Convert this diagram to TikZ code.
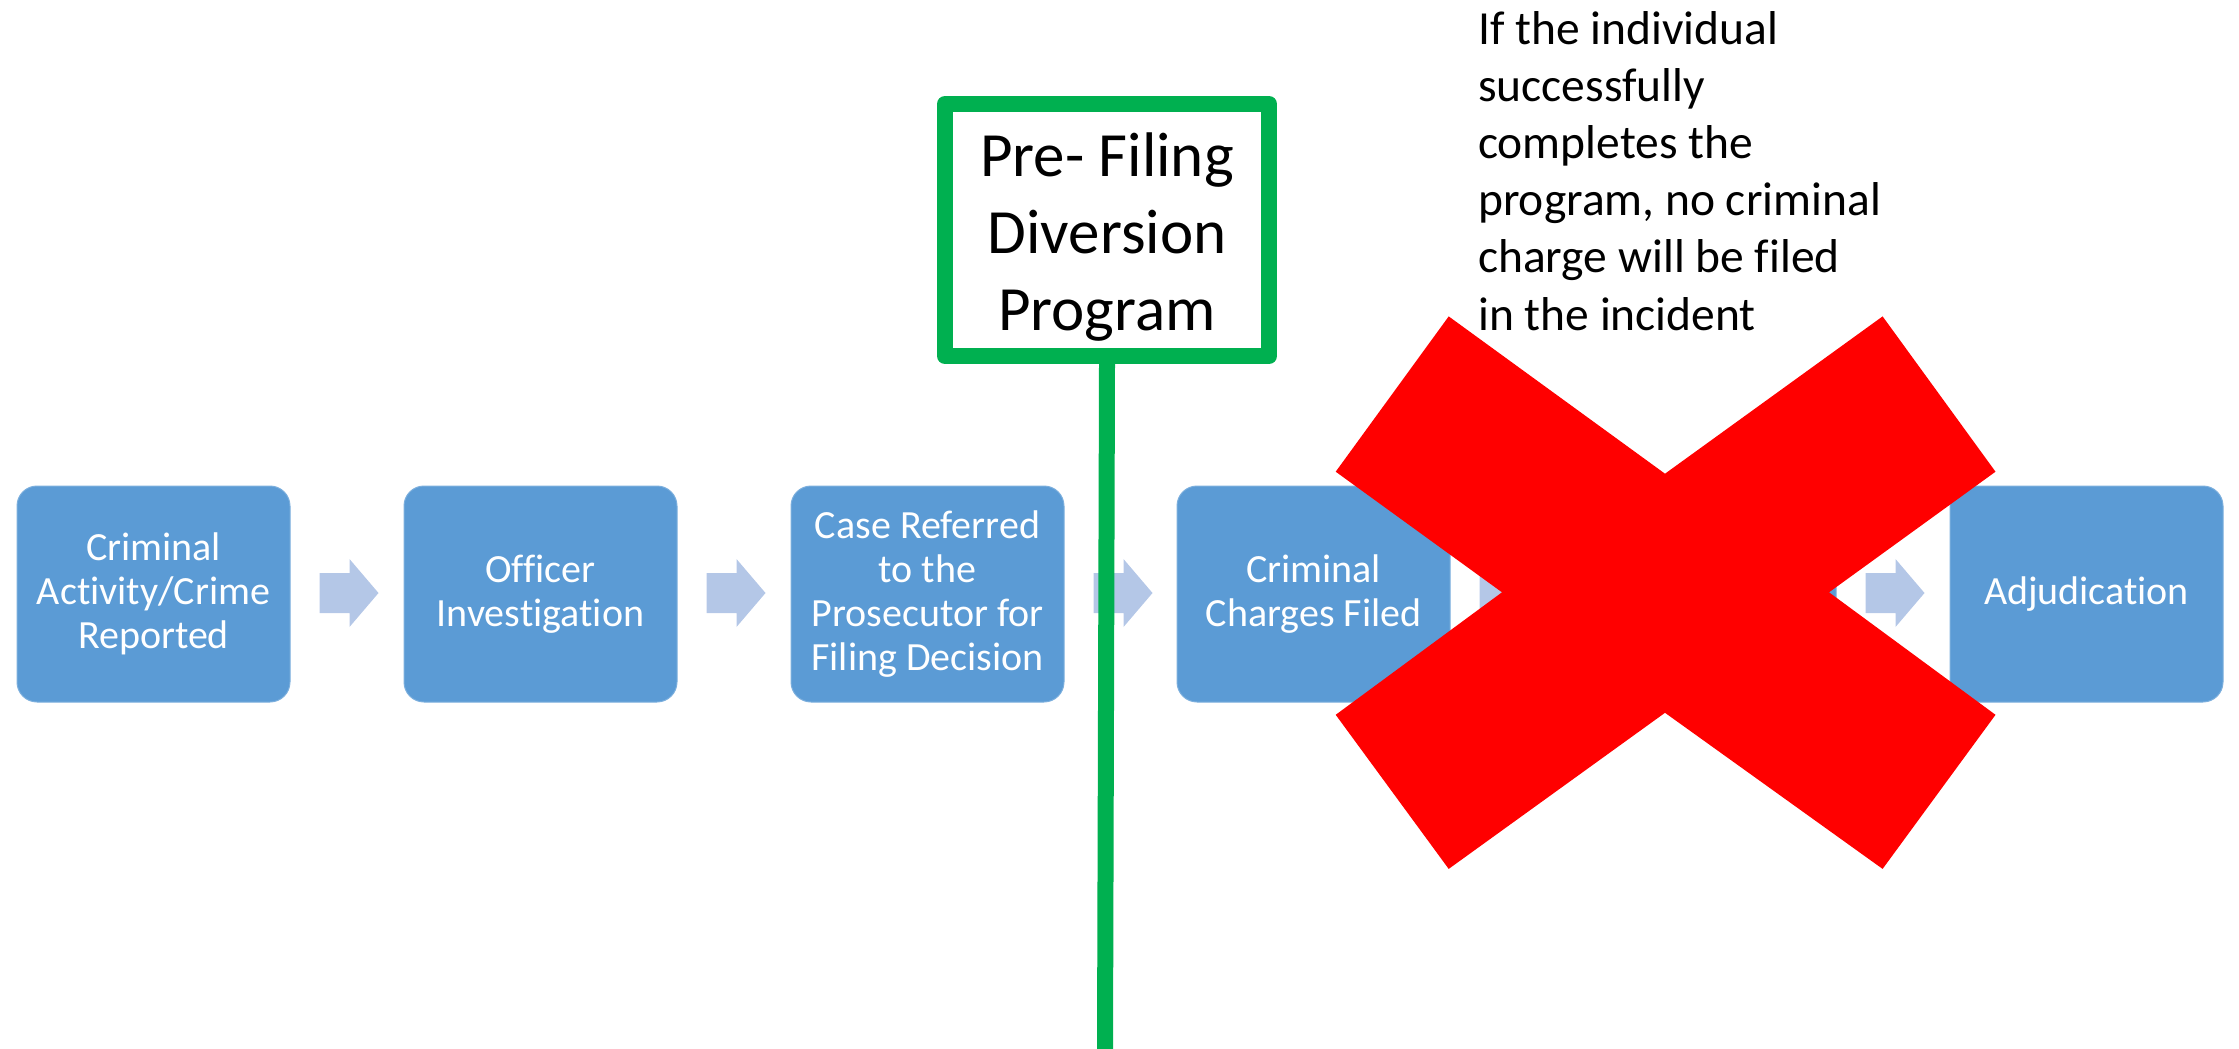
\documentclass[tikz,border=0pt]{standalone}
\usepackage{fontspec}
\setmainfont{Carlito}[Ligatures={NoCommon}]
\definecolor{boxblue}{HTML}{5B9BD5}
\definecolor{arrowblue}{HTML}{B4C7E7}
\definecolor{divgreen}{HTML}{00B050}
\definecolor{xred}{HTML}{FF0000}
\begin{document}
\begin{tikzpicture}[x=1pt,y=-1pt,
  stepbox/.style={fill=boxblue, draw=boxblue!80!white, line width=1pt, rounded corners=20pt,
    minimum width=273pt, minimum height=216pt, inner sep=0pt, text=white,
    font=\fontsize{40}{44}\selectfont, align=center},
  flowarrow/.style={fill=arrowblue},
  greenframe/.style={draw=divgreen, line width=16pt, line join=round, fill=white,
    minimum width=324pt, minimum height=252pt, inner sep=0pt},
  greenline/.style={draw=divgreen, line width=16pt},
  bigx/.style={fill=xred},
  note/.style={font=\fontsize{47.5}{57.2}\selectfont, align=left, inner sep=0pt, anchor=north west}
]
\useasboundingbox (0,0) rectangle (2239,1049);

\node[stepbox] (b1) at (153.5,594) {Criminal\\Activity/Crime\\Reported};
\node[stepbox] (b2) at (540.5,594) {Officer\\Investigation};
\node[stepbox] (b3) at (927.5,594) {Case Referred\\to the\\Prosecutor for\\Filing Decision};
\node[stepbox] (b4) at (1313.5,594) {Criminal\\Charges Filed};
\node[stepbox] (b5) at (1699.5,594) {};
\node[stepbox] (b6) at (2086.5,594) {Adjudication};

\foreach \s in {b1,b2,b3,b4,b5}{
  \fill[flowarrow] (\s.east) ++(29,-21) -- ++(30,0) -- ++(0,-14) -- ++(29,34)
    -- ++(-29,34) -- ++(0,-14) -- ++(-30,0) -- cycle;
}

\node[greenframe] (gbox) at (1107,230) {};
\node[font=\fontsize{63}{76.7}\selectfont, align=center, inner sep=0pt] (gtext) at (1107,237)
  {Pre- Filing\\Diversion\\Program};
\coordinate (gend) at (1105,1049);
\draw[greenline] (gbox.south) -- (gend);

\fill[bigx] (1448.7,316.4) -- (1665,473.7) -- (1882.6,316.4) -- (1995.5,471.7)
  -- (1829,592.3) -- (1995.5,714.8) -- (1882.6,868.9) -- (1665,712.8)
  -- (1448.7,868.9) -- (1335.7,714.8) -- (1502,592.3) -- (1335.7,471.7) -- cycle;

\node[note] (outcome) at (1478,11) {If the individual\\successfully\\completes the\\program, no criminal\\charge will be filed\\in the incident};
\end{tikzpicture}
\end{document}
